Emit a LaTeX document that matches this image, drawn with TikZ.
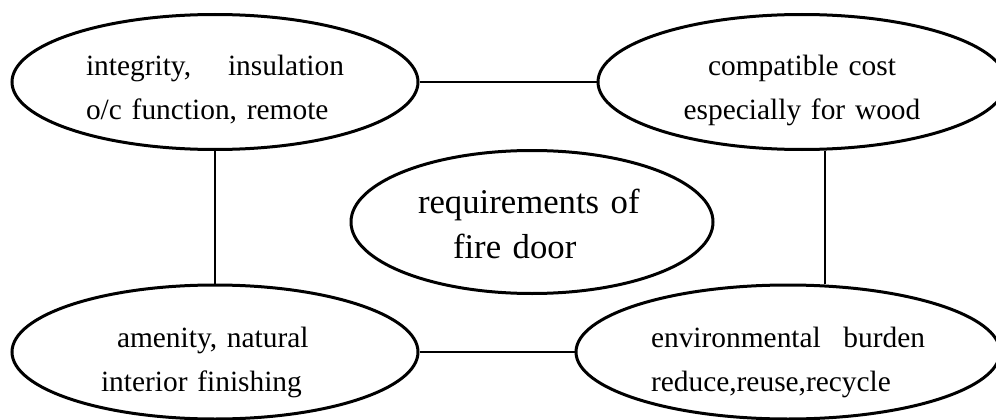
\documentclass[tikz,border=0pt]{standalone}
\usepackage{fontspec}
\setmainfont{Liberation Serif}
\usetikzlibrary{shapes.geometric}
\begin{document}
\begin{tikzpicture}[x=1pt,y=1pt,
    oval/.style={ellipse,draw,line width=3pt,inner sep=0pt,
                 font=\fontsize{29.4}{44}\selectfont,
                 text height=20pt,text depth=34pt},
    low/.style={text depth=30pt},
    hub/.style={font=\fontsize{34.7}{45}\selectfont,
                text height=24pt,text depth=42pt},
    ln/.style={line width=2pt}]
  \clip (0,0) rectangle (996,-420);
  \node[oval,minimum width=406pt,minimum height=135pt,text width=258pt,align=left]
    (integ) at (215,-82) {integrity,\hfill insulation\\o/c function, remote};
  \node[oval,minimum width=408pt,minimum height=135pt,text width=240pt,align=center]
    (cost) at (802,-82) {compatible cost\\especially for wood};
  \node[oval,low,minimum width=406pt,minimum height=134pt,text width=228pt,align=left]
    (amen) at (215,-352) {\hspace*{16pt}amenity, natural\\interior finishing};
  \node[oval,low,minimum width=424pt,minimum height=134pt,text width=274pt,align=left]
    (env) at (788,-352) {environmental\hfill burden\\reduce,reuse,recycle};
  \node[oval,hub,minimum width=362pt,minimum height=143pt,text width=228pt,align=left]
    (req) at (532,-222) {requirements of\\\hspace*{35pt}fire door};
  \draw[ln] (integ) -- (cost);
  \draw[ln] (amen) -- (env);
  \draw[ln] (integ) -- (amen);
  \draw[ln] ([xshift=23pt]cost.south) -- ([xshift=37pt]env.north);
\end{tikzpicture}
\end{document}
